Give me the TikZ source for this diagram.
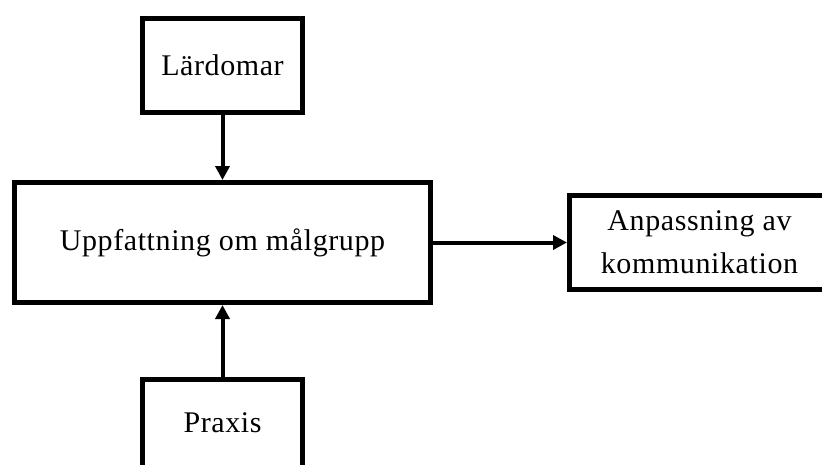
\documentclass[tikz,border=0pt]{standalone}
\usepackage{fontspec}
\newfontfamily\boxfont[LetterSpace=2]{Liberation Serif}
\usetikzlibrary{arrows.meta}
\tikzset{
  box/.style={draw=black, line width=5pt, fill=white, rectangle, inner sep=0pt,
    align=center, font=\boxfont\fontsize{30}{43}\selectfont},
  arr/.style={draw=black, line width=4pt, -{Triangle[length=14pt,width=14pt]}}
}
\begin{document}
\begin{tikzpicture}[x=1pt,y=-1pt]
\clip (0,0) rectangle (822,464);
\fill[white] (0,0) rectangle (822,464);
\node[box, minimum width=160pt, minimum height=94pt] (lard) at (222.5,65.5) {Lärdomar};
\node[box, minimum width=416pt, minimum height=120pt] (upp) at (222.5,242.5) {Uppfattning om målgrupp};
\node[box, minimum width=260pt, minimum height=94pt] (anp) at (699.5,242.5) {Anpassning av\\kommunikation};
\node[box, minimum width=160pt, minimum height=96pt] (prax) at (222.5,427.5) {\raisebox{9pt}{Praxis}};
\draw[arr] (lard) -- (upp);
\draw[arr] (prax) -- (upp);
\draw[arr] (upp) -- (anp);
\end{tikzpicture}
\end{document}
